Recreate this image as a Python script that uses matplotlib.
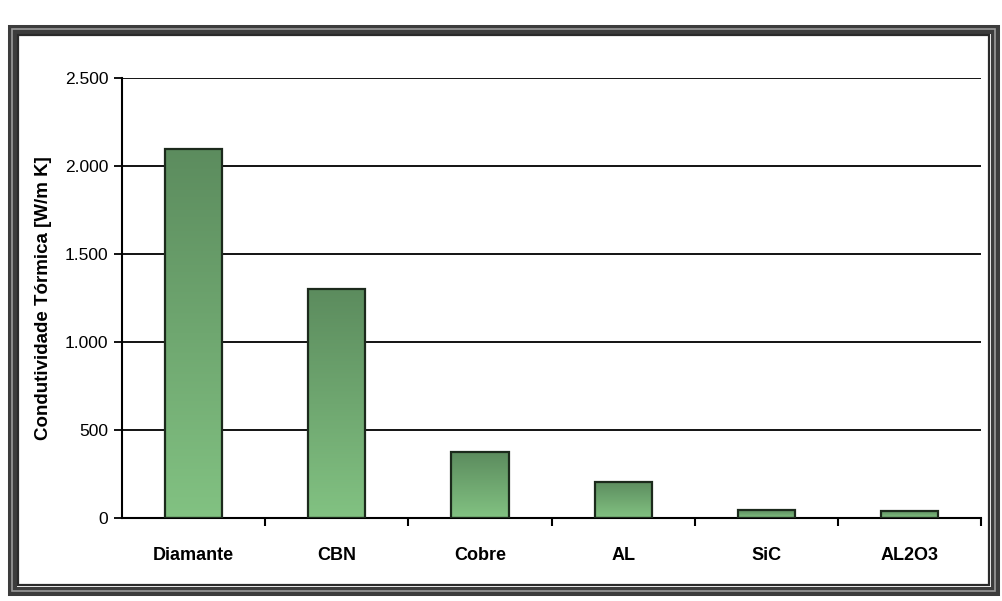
import numpy as np
import matplotlib
matplotlib.use("Agg")
import matplotlib.pyplot as plt
from matplotlib.patches import Rectangle
from matplotlib.colors import LinearSegmentedColormap

# thermal conductivity of tool materials
materiais = ["Diamante", "CBN", "Cobre", "AL", "SiC", "AL2O3"]
condutividade = [2100, 1300, 375, 205, 45, 42]
y_ticks = [0, 500, 1000, 1500, 2000, 2500]
y_labels = ["0", "500", "1.000", "1.500", "2.000", "2.500"]

plt.rcParams["font.family"] = ["Liberation Sans", "DejaVu Sans"]

fig = plt.figure(figsize=(10.02, 6.01), dpi=100)
fig.patch.set_facecolor("white")

# double frame around the chart
fig.patches.append(Rectangle((0.012, 0.017), 0.981, 0.934, transform=fig.transFigure,
                             fill=False, edgecolor="#3c3c3c", linewidth=6.5))
fig.patches.append(Rectangle((0.012, 0.017), 0.981, 0.934, transform=fig.transFigure,
                             fill=False, edgecolor="#9a9a9a", linewidth=1.2))
fig.patches.append(Rectangle((0.0175, 0.026), 0.970, 0.916, transform=fig.transFigure,
                             fill=False, edgecolor="#2a2a2a", linewidth=1.6))

ax = fig.add_axes([0.1218, 0.138, 0.8573, 0.732])

# vertical gradient: darker at the top, lighter at the bottom
grad_cmap = LinearSegmentedColormap.from_list("verde", ["#82c282", "#5c8c5e"])
grad = np.linspace(0, 1, 256).reshape(-1, 1)
largura = 0.4
for i, v in enumerate(condutividade):
    ax.imshow(grad, extent=[i - largura / 2, i + largura / 2, 0, v], origin="lower",
              aspect="auto", cmap=grad_cmap, zorder=2)
    ax.bar(i, v, width=largura, facecolor="none", edgecolor="#1c2a1c",
           linewidth=1.6, zorder=3)

ax.set_xlim(-0.5, len(materiais) - 0.5)
ax.set_ylim(0, 2500)

ax.set_yticks(y_ticks)
ax.set_yticklabels(y_labels, fontsize=12.5)
ax.yaxis.grid(True, color="black", linewidth=1.3)
ax.set_axisbelow(True)

# category labels sit between the boundary ticks
ax.set_xticks(np.arange(len(materiais)))
ax.set_xticklabels(materiais, fontsize=13, fontweight="bold")
ax.tick_params(axis="x", which="major", length=0, pad=21)
ax.set_xticks(np.arange(len(materiais)) + 0.5, minor=True)
ax.tick_params(axis="x", which="minor", length=6, width=1.5, direction="out")
ax.tick_params(axis="y", length=6, width=1.3, direction="out", pad=4)

for s in ["top", "right"]:
    ax.spines[s].set_visible(False)
ax.spines["left"].set_linewidth(1.5)
ax.spines["bottom"].set_linewidth(1.5)

ax.set_ylabel("Condutividade Tórmica [W/m K]", fontsize=13.5, fontweight="bold", labelpad=9)

fig.savefig("out.png", dpi=100, facecolor="white")
